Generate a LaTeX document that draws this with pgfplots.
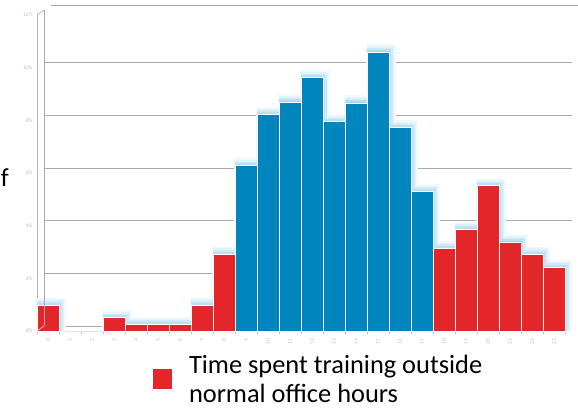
\documentclass[border=0pt]{standalone}
\usepackage{pgfplots}
\pgfplotsset{compat=1.18}
\usepackage{pgfplotstable}
\usepackage{fontspec}
\setmainfont{Carlito}
\definecolor{barred}{HTML}{E3262A}
\definecolor{barblue}{HTML}{0085BC}
\definecolor{glow}{HTML}{8CCBEA}
\definecolor{gridgray}{HTML}{A7A9AC}
\definecolor{lightgrid}{HTML}{D9D9D9}
\definecolor{ticklab}{HTML}{BDBDBD}

\pgfplotstableread{
x y
0 0.98
1 0
2 0
3 0.5
4 0.25
5 0.25
6 0.25
7 0.98
8 2.92
18 3.14
19 3.86
20 5.52
21 3.38
22 2.92
23 2.42
}\redtable
\pgfplotstableread{
x y
9 6.28
10 8.22
11 8.70
12 9.62
13 7.95
14 8.66
15 10.6
16 7.72
17 5.30
}\bluetable
\pgfplotstableread{
x y
0 0.98
3 0.5
4 0.25
5 0.25
6 0.25
7 0.98
8 2.92
9 6.28
10 8.22
11 8.70
12 9.62
13 7.95
14 8.66
15 10.6
16 7.72
17 5.30
18 3.14
19 3.86
20 5.52
21 3.38
22 2.92
23 2.42
}\alltable

\begin{document}
\begin{tikzpicture}
\useasboundingbox (0,0) rectangle (578bp,408bp);
\node[anchor=base east, font=\fontsize{26}{27}\selectfont, inner sep=0pt] at (9bp,221bp) {f};
\begin{axis}[
  at={(37bp,77bp)}, anchor=south west,
  width=528bp, height=316bp, scale only axis,
  xmin=-0.5, xmax=23.5, ymin=0, ymax=12,
  axis x line*=bottom, axis y line*=left,
  axis line style={draw=gridgray!80, line width=0.6bp},
  clip=false,
  ytick={0,2,4,6,8,10},
  extra y ticks={12},
  extra y tick style={grid style={draw=lightgrid, line width=0.6bp, shift={(7bp,5bp)}}},
  yticklabel={\pgfmathprintnumber{\tick}\%},
  ymajorgrids,
  major grid style={draw=gridgray, line width=0.8bp, shift={(7bp,5bp)}},
  ytick style={draw=none},
  yticklabel style={font=\fontsize{5.5}{6}\selectfont, text=ticklab, xshift=-1bp},
  xtick={0,...,23},
  xticklabels={0,1,2,3,4,5,6,7,8,9,10,11,12,13,14,15,16,17,18,19,20,21,22,23},
  xticklabel style={font=\fontsize{5.5}{6}\selectfont, text=ticklab, rotate=90, anchor=east, yshift=0bp},
  xtick style={draw=none},
  minor xtick={-0.5,0.5,...,23.5},
  minor tick length=3bp,
  xtick align=outside,
  minor x tick style={draw=gridgray!80, line width=0.5bp},
  /pgf/number format/assume math mode=true,
  ybar, bar width=1,
  legend style={draw=none, fill=none, inner sep=0pt, at={(0.218,-0.075)}, anchor=north west,
    legend cell align=left,
    nodes={align=left, font=\fontsize{26.5}{29}\selectfont, inner sep=0pt, text depth=0pt}},
  legend image code/.code={\fill[#1] (0bp,-11bp) rectangle (20bp,10bp); \path (36bp,0bp);},
  extra description/.code={
    \draw[gridgray, line width=0.6bp] (rel axis cs:0,0) ++(7bp,5bp) -- ++(0,316bp);
    \draw[gridgray, line width=0.6bp] (rel axis cs:0,1) -- ++(7bp,5bp);
    \draw[lightgrid, line width=0.6bp] (rel axis cs:0,0) -- ++(7bp,5bp);
  },
]
\addplot[bar shift=0, fill=glow!12, draw=glow!12, line width=8bp, shift={(3bp,3.5bp)}, forget plot] table {\alltable};
\addplot[bar shift=0, fill=glow!24, draw=glow!24, line width=5.5bp, shift={(2.5bp,3bp)}, forget plot] table {\alltable};
\addplot[bar shift=0, fill=glow!40, draw=glow!40, line width=3.5bp, shift={(2bp,2.3bp)}, forget plot] table {\alltable};
\addplot[bar shift=0, fill=glow!60, draw=glow!60, line width=2bp, shift={(1.3bp,1.5bp)}, forget plot] table {\alltable};
\addplot[bar shift=0, fill=barblue, draw=white, line width=0.7bp, forget plot] table {\bluetable};
\addplot[bar shift=0, fill=barred, draw=white, line width=0.7bp] table {\redtable};
\addlegendentry{Time spent training outside\\normal office hours}
\end{axis}
\end{tikzpicture}
\end{document}
